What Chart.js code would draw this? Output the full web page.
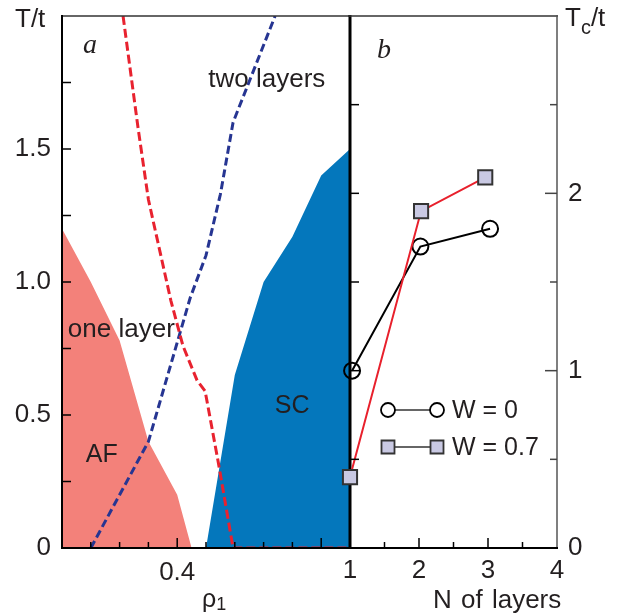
<!DOCTYPE html>
<html>
<head>
<meta charset="utf-8">
<script src="https://cdn.jsdelivr.net/npm/chart.js@4"></script>
<style>
  html, body { margin: 0; padding: 0; background: #fff; }
  #wrap { position: relative; width: 626px; height: 615px; overflow: hidden;
          font-family: 'Liberation Sans', Arial, sans-serif; color: #231f20; }
  canvas { position: absolute; top: 0; }
  #chartA { left: 0; }
  #chartB { left: 330px; }
  .ttl { position: absolute; font-size: 26px; line-height: 26px; white-space: nowrap; }
  .ttl span { position: relative; }
</style>
</head>
<body>
<div id="wrap">
  <canvas id="chartA" width="360" height="615"></canvas>
  <canvas id="chartB" width="296" height="615"></canvas>
  <div class="ttl" style="left:15px; top:5px;">T/t</div>
  <div class="ttl" style="left:565px; top:4px;">T<span style="font-size:20px; top:8px;">c</span>/t</div>
  <div class="ttl" style="left:202px; top:585px; font-size:25px;">ρ<span style="font-size:18px; top:3px;">1</span></div>
  <div class="ttl" style="left:433px; top:586px; word-spacing:2px;">N of layers</div>
</div>
<script>
// panel a: phase diagram, T/t vs rho_1
const rhoAF = [0, 0.1, 0.2, 0.3, 0.4, 0.45];
const tAF = [1.2, 1.0, 0.78, 0.4, 0.2, 0];
const rhoSC = [0.5, 0.6, 0.7, 0.8, 0.9, 1.0];
const tSC = [0, 0.65, 1.0, 1.17, 1.4, 1.5];
const rhoOneLayer = [0.212, 0.264, 0.3, 0.378, 0.42, 0.469, 0.497, 0.543, 0.594, 1.0];
const tOneLayer = [2.0, 1.58, 1.31, 0.93, 0.76, 0.63, 0.59, 0.32, 0, 0];
const rhoTwoLayers = [0.1, 0.3, 0.445, 0.5, 0.55, 0.594, 0.74];
const tTwoLayers = [0, 0.4, 0.94, 1.1, 1.33, 1.6, 2.0];
const rhoTickLabels = ['0.4'];
const tTickLabels = ['0', '0.5', '1.0', '1.5'];

// panel b: Tc/t vs number of layers
const layersW0 = [1.03, 2.02, 3.03];
const tcW0 = [1.0, 1.7, 1.8];
const layersW07 = [1.0, 2.03, 2.96];
const tcW07 = [0.4, 1.9, 2.09];
const layerTickLabels = ['1', '2', '3', '4'];
const tcTickLabels = ['0', '1', '2'];

const pts = (xs, ys) => xs.map((x, i) => ({ x, y: ys[i] }));
const near = (a, b) => Math.abs(a - b) < 1e-6;

Chart.defaults.font.family = "'Liberation Sans', Arial, sans-serif";
Chart.defaults.font.size = 26;
Chart.defaults.color = '#231f20';

// fixed axis box sizes, no label overflow padding
const fixBox = (w, h) => s => {
  if (w) s.width = w;
  if (h) s.height = h;
  s.paddingTop = 0; s.paddingBottom = 0; s.paddingLeft = 0; s.paddingRight = 0;
};

// frame lines + inward ticks (the paper style), drawn from the chart scales
const frame = {
  id: 'frame',
  afterDraw(chart, args, opts) {
    const { ctx, chartArea: a } = chart;
    ctx.save();
    (opts.sides || []).forEach(s => {
      ctx.strokeStyle = s.color;
      ctx.lineWidth = s.width;
      ctx.beginPath();
      if (s.side === 'top') { ctx.moveTo(a.left - 1, a.top); ctx.lineTo(a.right + 1, a.top); }
      if (s.side === 'bottom') { ctx.moveTo(a.left - 1, a.bottom); ctx.lineTo(a.right + 1, a.bottom); }
      if (s.side === 'left') { ctx.moveTo(a.left, a.top - 1); ctx.lineTo(a.left, a.bottom + 1); }
      if (s.side === 'right') { ctx.moveTo(a.right, a.top - 1); ctx.lineTo(a.right, a.bottom + 1); }
      ctx.stroke();
    });
    (opts.ticks || []).forEach(t => {
      const scale = chart.scales[t.scale];
      ctx.strokeStyle = t.color || '#000';
      ctx.lineWidth = t.width || 1.5;
      scale.ticks.forEach(tk => {
        const len = t.len(tk.value);
        if (!len) return;
        const p = scale.getPixelForValue(tk.value);
        ctx.beginPath();
        if (t.side === 'left') { ctx.moveTo(a.left, p); ctx.lineTo(a.left + len, p); }
        if (t.side === 'right') { ctx.moveTo(a.right, p); ctx.lineTo(a.right - len, p); }
        if (t.side === 'bottom') { ctx.moveTo(p, a.bottom); ctx.lineTo(p, a.bottom - len); }
        ctx.stroke();
      });
    });
    ctx.restore();
  }
};

// text placed in data coordinates
const notes = {
  id: 'notes',
  afterDatasetsDraw(chart, args, opts) {
    const { ctx, scales } = chart;
    ctx.save();
    ctx.textAlign = 'center';
    ctx.textBaseline = 'alphabetic';
    ctx.fillStyle = '#231f20';
    (opts.items || []).forEach(n => {
      ctx.font = n.font || "26px 'Liberation Sans', Arial, sans-serif";
      ctx.fillText(n.text, scales.x.getPixelForValue(n.x), scales.y.getPixelForValue(n.y));
    });
    ctx.restore();
  }
};

// legend with line-marker-line symbols
const markLegend = {
  id: 'markLegend',
  afterDraw(chart, args, opts) {
    const { ctx, chartArea: a } = chart;
    const rows = [chart.data.datasets[1], chart.data.datasets[0]];
    ctx.save();
    rows.forEach((ds, i) => {
      const y = a.top + opts.top + i * opts.gap;
      const x0 = a.left + opts.left, x1 = x0 + opts.span;
      ctx.strokeStyle = '#333';
      ctx.lineWidth = 1.5;
      ctx.beginPath(); ctx.moveTo(x0, y); ctx.lineTo(x1, y); ctx.stroke();
      [x0, x1].forEach(x => {
        ctx.beginPath();
        if (ds.pointStyle === 'rect') {
          ctx.rect(x - 6.5, y - 6.5, 13, 13);
          ctx.fillStyle = ds.pointBackgroundColor;
          ctx.fill();
        } else {
          ctx.arc(x, y, 7, 0, Math.PI * 2);
          ctx.fillStyle = '#fff';
          ctx.fill();
        }
        ctx.lineWidth = 1.8;
        ctx.strokeStyle = ds.pointBorderColor;
        ctx.stroke();
      });
      ctx.fillStyle = '#231f20';
      ctx.font = "25px 'Liberation Sans', Arial, sans-serif";
      ctx.textAlign = 'left';
      ctx.textBaseline = 'alphabetic';
      ctx.fillText(ds.label, x1 + 15, y + 8);
    });
    ctx.restore();
  }
};

new Chart(document.getElementById('chartA'), {
  type: 'scatter',
  data: {
    datasets: [
      { label: 'one layer', data: pts(rhoOneLayer, tOneLayer), showLine: true,
        borderColor: '#e8222f', borderWidth: 3, borderDash: [9, 4], pointRadius: 0, fill: false },
      { label: 'two layers', data: pts(rhoTwoLayers, tTwoLayers), showLine: true,
        borderColor: '#263592', borderWidth: 3, borderDash: [8, 4], pointRadius: 0, fill: false },
      { label: 'AF', data: pts(rhoAF, tAF), showLine: true, borderWidth: 0,
        borderColor: 'rgba(0,0,0,0)', backgroundColor: '#f3817a', pointRadius: 0, fill: 'origin' },
      { label: 'SC', data: pts(rhoSC, tSC), showLine: true, borderWidth: 0,
        borderColor: 'rgba(0,0,0,0)', backgroundColor: '#0477bc', pointRadius: 0, fill: 'origin' }
    ]
  },
  options: {
    responsive: false,
    animation: false,
    layout: { padding: { top: 16, right: 10, left: 0, bottom: 0 } },
    scales: {
      x: {
        type: 'linear', min: 0, max: 1,
        grid: { display: false, drawTicks: false },
        border: { display: false },
        afterFit: fixBox(0, 67),
        ticks: {
          stepSize: 0.1, autoSkip: false, maxRotation: 0, padding: 9,
          callback: v => rhoTickLabels.find(l => near(+l, v)) || ''
        }
      },
      y: {
        min: 0, max: 2,
        grid: { display: false, drawTicks: false },
        border: { display: false },
        afterFit: fixBox(62, 0),
        ticks: {
          stepSize: 0.25, autoSkip: false, padding: 11,
          callback: v => tTickLabels.find(l => near(+l, v)) || ''
        }
      }
    },
    plugins: {
      legend: { display: false },
      tooltip: { enabled: false },
      notes: {
        items: [
          { text: 'a', x: 0.097, y: 1.86, font: "italic 28px 'Liberation Serif', serif" },
          { text: 'two layers', x: 0.711, y: 1.732 },
          { text: 'one layer', x: 0.206, y: 0.794 },
          { text: 'AF', x: 0.138, y: 0.324, font: "25px 'Liberation Sans', Arial, sans-serif" },
          { text: 'SC', x: 0.799, y: 0.508, font: "25px 'Liberation Sans', Arial, sans-serif" }
        ]
      },
      frame: {
        sides: [
          { side: 'top', color: '#333', width: 1.5 },
          { side: 'left', color: '#000', width: 2 },
          { side: 'bottom', color: '#000', width: 2 },
          { side: 'right', color: '#000', width: 3 }
        ],
        ticks: [
          { scale: 'y', side: 'left', len: v => (v > 0 && v < 2 ? 9 : 0) },
          { scale: 'x', side: 'bottom', len: v => (v <= 0 || v >= 1 ? 0 : (near(v, 0.4) || near(v, 0.9) ? 10 : 6)) }
        ]
      }
    }
  },
  plugins: [notes, frame]
});

new Chart(document.getElementById('chartB'), {
  type: 'scatter',
  data: {
    datasets: [
      { label: 'W = 0.7', data: pts(layersW07, tcW07), showLine: true,
        borderColor: '#e8202c', borderWidth: 2, pointStyle: 'rect', pointRadius: 10,
        pointBorderWidth: 2, pointBorderColor: '#333', pointBackgroundColor: '#c9c9e3', clip: false },
      { label: 'W = 0', data: pts(layersW0, tcW0), showLine: true,
        borderColor: '#000', borderWidth: 2, pointStyle: 'circle', pointRadius: 8,
        pointBorderWidth: 2, pointBorderColor: '#000', pointBackgroundColor: 'rgba(0,0,0,0)', clip: false }
    ]
  },
  options: {
    responsive: false,
    animation: false,
    layout: { padding: { top: 16, right: 0, left: 20, bottom: 0 } },
    scales: {
      x: {
        type: 'linear', min: 1, max: 4,
        grid: { display: false, drawTicks: false },
        border: { display: false },
        afterFit: fixBox(0, 67),
        ticks: {
          stepSize: 0.5, autoSkip: false, maxRotation: 0, padding: 7,
          callback: v => layerTickLabels.find(l => near(+l, v)) || ''
        }
      },
      y: {
        position: 'right', min: 0, max: 3,
        grid: { display: false, drawTicks: false },
        border: { display: false },
        afterFit: fixBox(69, 0),
        ticks: {
          stepSize: 0.5, autoSkip: false, padding: 11,
          callback: v => tcTickLabels.find(l => near(+l, v)) || ''
        }
      }
    },
    plugins: {
      legend: { display: false },
      tooltip: { enabled: false },
      notes: {
        items: [
          { text: 'b', x: 1.493, y: 2.763, font: "italic 28px 'Liberation Serif', serif" }
        ]
      },
      markLegend: { left: 38, span: 49, top: 394, gap: 37 },
      frame: {
        sides: [
          { side: 'top', color: '#333', width: 1.5 },
          { side: 'right', color: '#555', width: 1.5 },
          { side: 'bottom', color: '#000', width: 2 }
        ],
        ticks: [
          { scale: 'y', side: 'left', len: v => (v > 0 && v < 3 ? 9 : 0) },
          { scale: 'y', side: 'right', color: '#444', len: v => (v > 0 && v < 3 ? (Number.isInteger(v) ? 12 : 7) : 0) },
          { scale: 'x', side: 'bottom', len: v => (v <= 1 || v >= 4 ? 0 : (Number.isInteger(v) ? 10 : 6)) }
        ]
      }
    }
  },
  plugins: [notes, markLegend, frame]
});
</script>
</body>
</html>
